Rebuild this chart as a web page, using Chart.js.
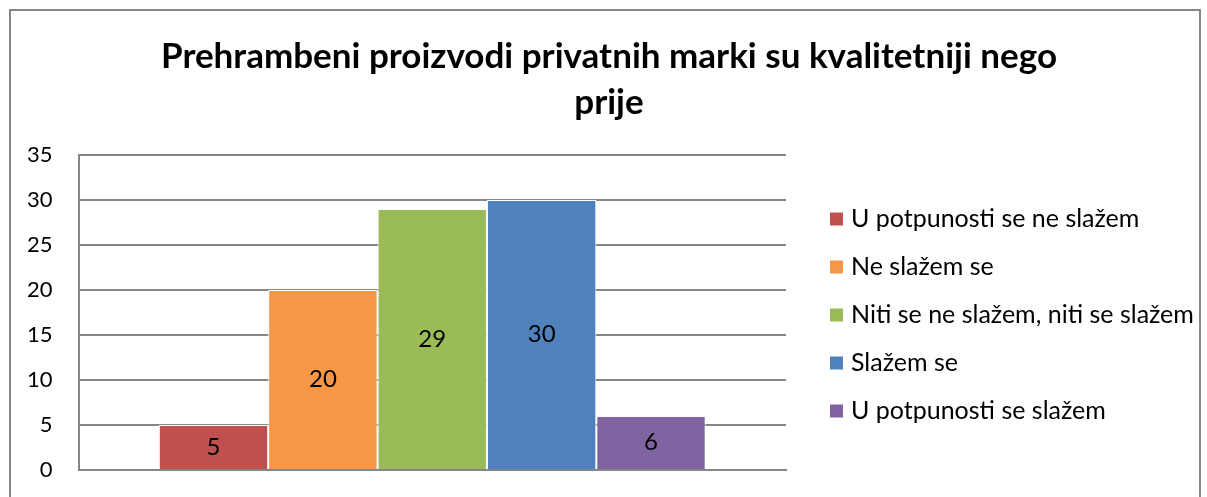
<!DOCTYPE html>
<html lang="hr">
<head>
<meta charset="UTF-8">
<title>Prehrambeni proizvodi privatnih marki</title>
<script src="https://cdn.jsdelivr.net/npm/chart.js"></script>
<style>
body { margin: 0; background: #fff; }
#wrap { position: relative; width: 1207px; height: 497px; }
</style>
</head>
<body>
<div id="wrap"><canvas id="myChart" width="1207" height="497"></canvas></div>
<script>
// data
const titleLines = ['Prehrambeni proizvodi privatnih marki su kvalitetniji nego', 'prije'];
const seriesNames = ['U potpunosti se ne slažem', 'Ne slažem se', 'Niti se ne slažem, niti se slažem', 'Slažem se', 'U potpunosti se slažem'];
const seriesValues = [5, 20, 29, 30, 6];
const seriesColors = ['#C0504D', '#F79646', '#9BBB59', '#4F81BD', '#8064A2'];
const yTicks = [0, 5, 10, 15, 20, 25, 30, 35];

const FONT = 'Lato, "Open Sans", sans-serif';

// outer frame and title across the whole canvas
const framePlugin = {
    id: 'frame',
    beforeDraw(chart) {
        const c = chart.ctx;
        c.save();
        c.fillStyle = '#fff';
        c.fillRect(0, 0, chart.width, chart.height);
        c.strokeStyle = '#868686';
        c.lineWidth = 2;
        c.strokeRect(10, 10, 1190, 520);
        c.fillStyle = '#000';
        c.font = 'bold 35px ' + FONT;
        c.textAlign = 'center';
        c.textBaseline = 'middle';
        titleLines.forEach((line, i) => c.fillText(line, 609, 57 + i * 46));
        c.restore();
    }
};

// value labels in the middle of each bar
const valuePlugin = {
    id: 'values',
    afterDatasetsDraw(chart) {
        const c = chart.ctx;
        c.save();
        c.font = '24px ' + FONT;
        c.fillStyle = '#000';
        c.textAlign = 'center';
        c.textBaseline = 'middle';
        chart.data.datasets.forEach((ds, i) => {
            chart.getDatasetMeta(i).data.forEach((bar, j) => {
                const mid = (bar.y + bar.base) / 2;
                c.fillText(ds.data[j], bar.x, mid);
            });
        });
        c.restore();
    }
};

// legend drawn on the right, centred on the plot area
const legendPlugin = {
    id: 'sideLegend',
    afterDraw(chart) {
        const c = chart.ctx;
        const area = chart.chartArea;
        const rowH = 48;
        const n = chart.data.datasets.length;
        const top = (area.top + area.bottom) / 2 - (n - 1) * rowH / 2 + 2;
        c.save();
        c.font = '25px ' + FONT;
        c.textBaseline = 'middle';
        chart.data.datasets.forEach((ds, i) => {
            const y = top + i * rowH;
            c.fillStyle = ds.backgroundColor;
            c.fillRect(830, y - 6, 13, 13);
            c.fillStyle = '#000';
            c.fillText(ds.label, 851, y);
        });
        c.restore();
    }
};

const ctx = document.getElementById('myChart').getContext('2d');
const myChart = new Chart(ctx, {
    type: 'bar',
    data: {
        labels: [''],
        datasets: seriesNames.map((name, i) => ({
            label: name,
            data: [seriesValues[i]],
            backgroundColor: seriesColors[i],
            borderColor: '#ffffff',
            borderWidth: 1,
            categoryPercentage: 0.773,
            barPercentage: 1.0
        }))
    },
    options: {
        responsive: false,
        animation: false,
        layout: { padding: { left: 1, right: 421, top: 155, bottom: 27 } },
        plugins: {
            legend: { display: false },
            tooltip: { enabled: false },
            title: { display: false }
        },
        scales: {
            x: {
                ticks: { display: false },
                grid: { display: false, drawTicks: false },
                border: { display: true, color: '#868686', width: 2 }
            },
            y: {
                min: 0,
                max: 35,
                afterBuildTicks(axis) { axis.ticks = yTicks.map(v => ({ value: v })); },
                afterFit(axis) { axis.paddingBottom = 0; axis.paddingTop = 0; },
                ticks: { color: '#000', padding: 26, font: { family: FONT, size: 22 } },
                grid: { color: '#868686', lineWidth: 2, drawTicks: false },
                border: { display: true, color: '#868686', width: 2 }
            }
        }
    },
    plugins: [framePlugin, valuePlugin, legendPlugin]
});
</script>
</body>
</html>
